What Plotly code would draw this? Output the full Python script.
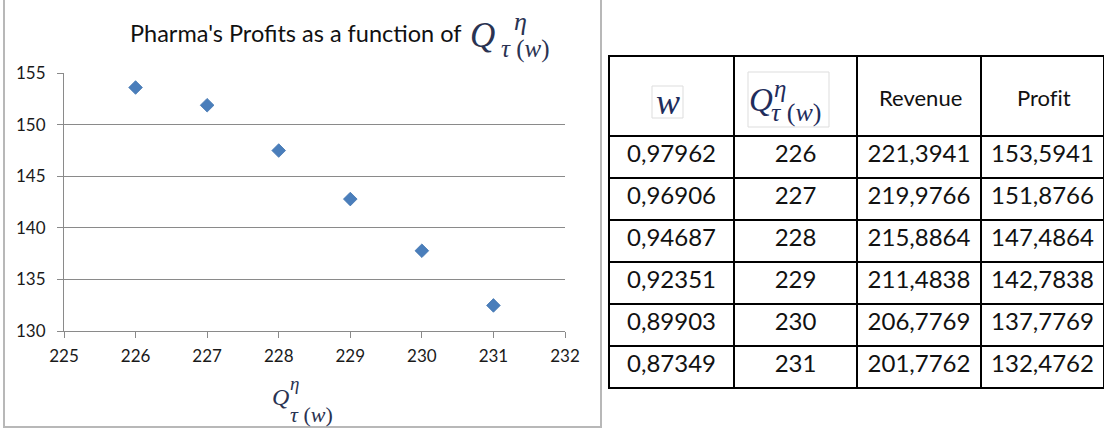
import plotly.graph_objects as go

# ---- data ----
w_vals = [0.97962, 0.96906, 0.94687, 0.92351, 0.89903, 0.87349]
q_vals = [226, 227, 228, 229, 230, 231]
revenue = [221.3941, 219.9766, 215.8864, 211.4838, 206.7769, 201.7762]
profit = [153.5941, 151.8766, 147.4864, 142.7838, 137.7769, 132.4762]
x_ticks = [225, 226, 227, 228, 229, 230, 231, 232]
y_ticks = [130, 135, 140, 145, 150, 155]
title_text = "Pharma's Profits as a function of"
header_labels = ["Revenue", "Prof\u200cit"]

W, H = 1104, 430
def px(x):
    return x / W
def py(y):
    return 1 - y / H

def fmt(v, d):
    return f"{v:.{d}f}".replace(".", ",")

fig = go.Figure()

fig.add_trace(go.Scatter(
    x=q_vals, y=profit, mode="markers",
    marker=dict(symbol="diamond", size=10.5, color="#4A7EBB",
                line=dict(color="#4175B0", width=0.8)),
    showlegend=False, hoverinfo="x+y"))

fig.add_trace(go.Table(
    domain=dict(x=[px(609), 1.0], y=[py(390), py(56)]),
    columnwidth=[125, 123, 124, 123],
    header=dict(values=["", "", "", ""], height=80,
                fill=dict(color="white"),
                line=dict(color="black", width=1.6),
                align="center",
                font=dict(family="Lato", size=22, color="#111111")),
    cells=dict(values=[[fmt(v, 5) for v in w_vals],
                       [str(v) for v in q_vals],
                       [fmt(v, 4) for v in revenue],
                       [fmt(v, 4) for v in profit]],
               height=42,
               fill=dict(color="white"),
               line=dict(color="black", width=1.6),
               align="center",
               font=dict(family="Lato", size=24, color="#111111"))))

ann = []
SERIF = "Liberation Serif"
def txt(x, y, text, size, color, anchor="left", family=SERIF):
    ann.append(dict(x=px(x), y=py(y), xref="paper", yref="paper", text=text,
                    showarrow=False, xanchor=anchor, yanchor="middle",
                    font=dict(family=family, size=size, color=color)))

def qmath(q, sup, sub, color):
    # q, sup, sub: (left_x, center_y, size)
    txt(q[0], q[1], "<i>Q</i>", q[2], color)
    txt(sup[0], sup[1], "<i>η</i>", sup[2], color)
    txt(sub[0], sub[1], "<i>τ</i> (<i>w</i>)", sub[2], color)

# title
txt(296, 33, title_text, 23.5, "#111111", anchor="center", family="Lato")
qmath((468, 35, 35), (512, 22, 26), (499, 49, 25), "#2a3352")
# x-axis title
qmath((270, 397, 24), (288, 383, 19), (288, 414, 22), "#2a3352")
# table header
qmath((747, 100, 33), (772, 88, 25), (769, 112, 26), "#1f2d5c")
txt(667.5, 102, "<i>w</i>", 36, "#1f2d5c", anchor="center")
txt(920, 98, header_labels[0], 22, "#111111", anchor="center", family="Lato")
txt(1044, 98, header_labels[1], 22, "#111111", anchor="center", family="Lato")

shapes = [
    # chart frame
    dict(type="rect", xref="paper", yref="paper", x0=px(4), x1=px(601), y0=py(427), y1=py(-5),
         line=dict(color="#b8b8b8", width=2)),
    # light boxes around pasted math images in header
    dict(type="rect", xref="paper", yref="paper", x0=px(652), x1=px(683), y0=py(118), y1=py(86),
         line=dict(color="#dddddd", width=1)),
    dict(type="rect", xref="paper", yref="paper", x0=px(748), x1=px(829), y0=py(127), y1=py(72),
         line=dict(color="#dddddd", width=1)),
]

fig.update_layout(
    width=W, height=H, margin=dict(l=0, r=0, t=0, b=0),
    paper_bgcolor="white", plot_bgcolor="white",
    template="none",
    annotations=ann, shapes=shapes,
    xaxis=dict(domain=[px(64), px(565)], range=[225, 232], tickvals=x_ticks,
               showgrid=False, zeroline=False, showline=True, linecolor="#8a8a8a", linewidth=1.2,
               ticks="outside", ticklen=6, tickcolor="#8a8a8a", tickwidth=1.2,
               ticklabelstandoff=3, automargin=False,
               tickfont=dict(family="Lato", size=17, color="#1a1a1a")),
    yaxis=dict(domain=[py(331), py(73)], range=[130, 155], tickvals=y_ticks,
               showgrid=True, gridcolor="#8a8a8a", gridwidth=1.4,
               zeroline=False, showline=True, linecolor="#8a8a8a", linewidth=1.2,
               ticks="outside", ticklen=6, tickcolor="#8a8a8a", tickwidth=1.2,
               ticklabelstandoff=8, automargin=False,
               tickfont=dict(family="Lato", size=17, color="#1a1a1a")),
)

fig.write_html("out.html")
